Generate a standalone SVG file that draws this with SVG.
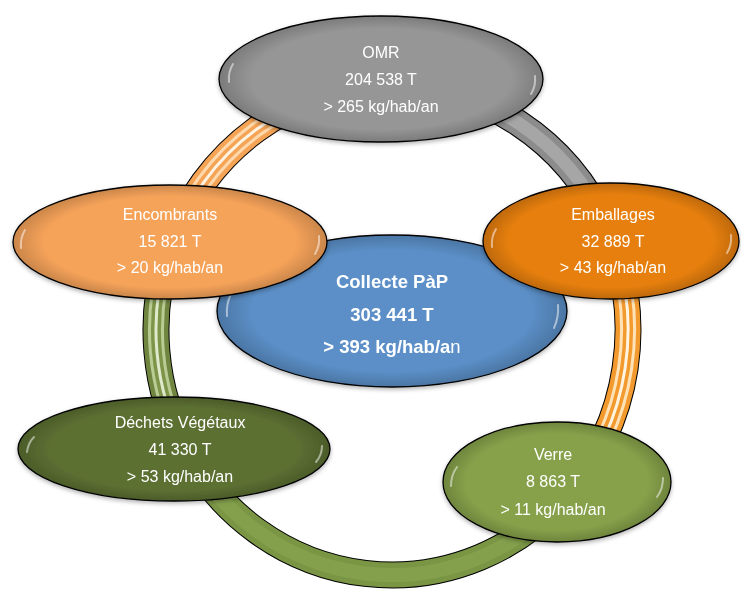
<svg xmlns="http://www.w3.org/2000/svg" width="741" height="589" viewBox="0 0 741 589">
<style>
.t{font-family:"Liberation Sans",Arial,sans-serif;font-size:16px;fill:#ffffff;text-anchor:middle}
.b{font-family:"Liberation Sans",Arial,sans-serif;font-size:18.5px;font-weight:bold;fill:#ffffff;text-anchor:middle}
.node{stroke:#000;stroke-width:1.3}
.shade{fill:url(#edge);stroke:none}
.gl{fill:none;stroke:#fff;stroke-width:2;stroke-linecap:round;opacity:0.5}
.ol{fill:none;stroke:#000;stroke-width:27}
</style>
<defs>
<radialGradient id="edge" cx="0.5" cy="0.5" r="0.5">
<stop offset="0.8" stop-color="#000" stop-opacity="0"/>
<stop offset="1" stop-color="#000" stop-opacity="0.18"/>
</radialGradient>
<filter id="sh" x="-10%" y="-10%" width="120%" height="130%">
<feDropShadow dx="0" dy="2" stdDeviation="2" flood-color="#000" flood-opacity="0.3"/>
</filter>
</defs>
<g id="connectors">
<path class="ol" d="M392,85 A236,245 0 0 1 605.9,226.5"/>
<path d="M392,85 A236,245 0 0 1 605.9,226.5" fill="none" stroke="#8c8c8c" stroke-width="25"/>
<path d="M392,85 A236,245 0 0 1 605.9,226.5" fill="none" stroke="#a6a6a6" stroke-width="13"/>
<path class="ol" d="M605.9,226.5 A236,245 0 0 1 564.6,497.1"/>
<path d="M605.9,226.5 A236,245 0 0 1 564.6,497.1" fill="none" stroke="#f39a2e" stroke-width="25"/>
<path d="M605.9,226.5 A236,245 0 0 1 564.6,497.1" fill="none" stroke="#ffe3b8" stroke-width="16"/>
<path d="M605.9,226.5 A236,245 0 0 1 564.6,497.1" fill="none" stroke="#f39a2e" stroke-width="10"/>
<path d="M605.9,226.5 A236,245 0 0 1 564.6,497.1" fill="none" stroke="#fff4e0" stroke-width="3"/>
<path class="ol" d="M564.6,497.1 A236,245 0 0 1 187.6,452.5"/>
<path d="M564.6,497.1 A236,245 0 0 1 187.6,452.5" fill="none" stroke="#7a9645" stroke-width="25"/>
<path d="M564.6,497.1 A236,245 0 0 1 187.6,452.5" fill="none" stroke="#84a04d" stroke-width="14"/>
<path class="ol" d="M187.6,452.5 A236,245 0 0 1 170.2,246.2"/>
<path d="M187.6,452.5 A236,245 0 0 1 170.2,246.2" fill="none" stroke="#6f8540" stroke-width="25"/>
<path d="M187.6,452.5 A236,245 0 0 1 170.2,246.2" fill="none" stroke="#b9cc94" stroke-width="16"/>
<path d="M187.6,452.5 A236,245 0 0 1 170.2,246.2" fill="none" stroke="#7e9549" stroke-width="10"/>
<path d="M187.6,452.5 A236,245 0 0 1 170.2,246.2" fill="none" stroke="#dfe9cc" stroke-width="3"/>
<path class="ol" d="M170.2,246.2 A236,245 0 0 1 392,85"/>
<path d="M170.2,246.2 A236,245 0 0 1 392,85" fill="none" stroke="#f5a456" stroke-width="25"/>
<path d="M170.2,246.2 A236,245 0 0 1 392,85" fill="none" stroke="#ffd9ae" stroke-width="16"/>
<path d="M170.2,246.2 A236,245 0 0 1 392,85" fill="none" stroke="#f5a456" stroke-width="10"/>
<path d="M170.2,246.2 A236,245 0 0 1 392,85" fill="none" stroke="#fff3e2" stroke-width="3"/>
</g>
<g id="omr" filter="url(#sh)">
<ellipse class="node" cx="381" cy="79" rx="162" ry="63" fill="#969696"/>
<ellipse class="shade" cx="381" cy="79" rx="162" ry="63"/>
<path class="gl" d="M229,82 Q228,72 233,64"/>
<path class="gl" d="M535,76 Q536,86 531,94"/>
<text class="t" x="381" y="58">OMR</text>
<text class="t" x="381" y="85">204 538 T</text>
<text class="t" x="381" y="112">&gt; 265 kg/hab/an</text>
</g>
<g id="collecte" filter="url(#sh)">
<ellipse class="node" cx="392" cy="311" rx="175" ry="76" fill="#5b8fc7"/>
<ellipse class="shade" cx="392" cy="311" rx="175" ry="76"/>
<path class="gl" d="M227,316 Q226,304 231,294"/>
<path class="gl" d="M558,305 Q559,317 554,328"/>
<text class="b" x="392" y="288">Collecte PàP</text>
<text class="b" x="392" y="321">303 441 T</text>
<text class="b" x="392" y="353">&gt; 393 kg/hab/a<tspan font-weight="normal">n</tspan></text>
</g>
<g id="encombrants" filter="url(#sh)">
<ellipse class="node" cx="170" cy="242" rx="157" ry="57" fill="#f6a35a"/>
<ellipse class="shade" cx="170" cy="242" rx="157" ry="57"/>
<path class="gl" d="M21,248 Q20,238 25,230"/>
<path class="gl" d="M319,236 Q320,246 315,254"/>
<text class="t" x="170" y="220">Encombrants</text>
<text class="t" x="170" y="247">15 821 T</text>
<text class="t" x="170" y="273">&gt; 20 kg/hab/an</text>
</g>
<g id="emballages" filter="url(#sh)">
<ellipse class="node" cx="611" cy="241" rx="128" ry="58" fill="#e67f0c"/>
<ellipse class="shade" cx="611" cy="241" rx="128" ry="58"/>
<path class="gl" d="M492,247 Q491,237 496,229"/>
<path class="gl" d="M731,235 Q732,245 727,253"/>
<text class="t" x="613" y="220">Emballages</text>
<text class="t" x="613" y="247">32 889 T</text>
<text class="t" x="613" y="273">&gt; 43 kg/hab/an</text>
</g>
<g id="dechets" filter="url(#sh)">
<ellipse class="node" cx="174" cy="449" rx="156" ry="52" fill="#5c6f32"/>
<ellipse class="shade" cx="174" cy="449" rx="156" ry="52"/>
<path class="gl" d="M27,452 Q28,443 34,437"/>
<path class="gl" d="M322,446 Q322,455 316,462"/>
<text class="t" x="180" y="428">Déchets Végétaux</text>
<text class="t" x="180" y="455">41 330 T</text>
<text class="t" x="180" y="482">&gt; 53 kg/hab/an</text>
</g>
<g id="verre" filter="url(#sh)">
<ellipse class="node" cx="557" cy="482" rx="114" ry="60" fill="#86a14a"/>
<ellipse class="shade" cx="557" cy="482" rx="114" ry="60"/>
<path class="gl" d="M451,486 Q451,475 457,467"/>
<path class="gl" d="M663,478 Q663,489 657,497"/>
<text class="t" x="553" y="460">Verre</text>
<text class="t" x="553" y="487">8 863 T</text>
<text class="t" x="553" y="515">&gt; 11 kg/hab/an</text>
</g>
</svg>
